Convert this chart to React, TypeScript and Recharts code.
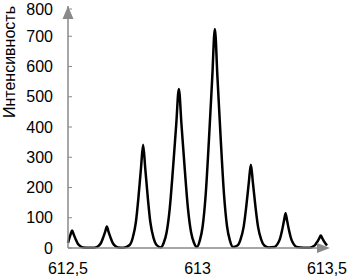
import { Line, LineChart, ReferenceDot, XAxis, YAxis } from "recharts";

// wavelength (x) and intensity (y)
const wavelengths = [
  612.5, 612.51, 612.516, 612.522, 612.53, 612.538, 612.548, 612.559, 612.58, 612.6,
  612.607, 612.618, 612.628, 612.636, 612.644, 612.65, 612.656, 612.664, 612.672, 612.682, 612.693, 612.715,
  612.738, 612.75, 612.762, 612.772, 612.782, 612.79, 612.798, 612.808, 612.818, 612.83, 612.842, 612.859,
  612.87, 612.881, 612.893, 612.905, 612.918, 612.928, 612.938, 612.951, 612.963, 612.975, 612.986, 612.998,
  613.009, 613.02, 613.032, 613.044, 613.057, 613.067, 613.077, 613.09, 613.102, 613.114, 613.125, 613.137,
  613.154, 613.166, 613.178, 613.188, 613.198, 613.206, 613.214, 613.224, 613.234, 613.246, 613.258, 613.275,
  613.297, 613.308, 613.318, 613.326, 613.334, 613.34, 613.346, 613.354, 613.362, 613.372, 613.383, 613.41,
  613.433, 613.444, 613.454, 613.462, 613.47, 613.476, 613.482, 613.49, 613.5,
];
const intensity = [
  17, 45, 58, 45, 28, 14, 6, 2, 1, 1,
  2, 7, 18, 35, 55, 71, 55, 35, 18, 7, 2, 1,
  10, 34, 85, 167, 266, 341, 266, 167, 85, 34, 10, 2,
  18, 53, 132, 258, 410, 526, 410, 258, 132, 53, 18, 3,
  25, 72, 181, 355, 565, 724, 565, 355, 181, 72, 25, 3,
  8, 28, 69, 135, 215, 275, 215, 135, 69, 28, 8, 2,
  3, 12, 29, 56, 90, 115, 90, 56, 29, 12, 3, 1,
  1, 4, 10, 20, 32, 41, 32, 20, 8,
];
const xTicks = [612.5, 613, 613.5];
const yTicks = [0, 100, 200, 300, 400, 500, 600, 700, 800];

const data = wavelengths.map((x, i) => ({ x, y: intensity[i] }));

const font = "'Liberation Sans', Arial, sans-serif";
const axisGrey = "#8a8a8a";

function YTick(props: any) {
  const { x, y, payload } = props;
  return (
    <g>
      <line x1={x + 15} x2={x + 19} y1={y} y2={y} stroke={axisGrey} strokeWidth={1} />
      <text x={x} y={y} dy="0.355em" textAnchor="end" fill="#000" fontSize={16} fontFamily={font}>
        {payload.value}
      </text>
    </g>
  );
}

function YTitle() {
  return (
    <text
      x={9}
      y={62}
      transform="rotate(-90, 9, 62)"
      textAnchor="middle"
      dominantBaseline="central"
      fill="#000"
      fontSize={16}
      fontFamily={font}
    >
      Интенсивность
    </text>
  );
}

export default function App() {
  return (
    <div style={{ position: "absolute", left: 0, top: 0, width: 349, height: 277, background: "#fff" }}>
      <LineChart width={349} height={277} data={data} margin={{ top: 6, right: 22, bottom: 0, left: 0 }}>
        <XAxis
          dataKey="x"
          type="number"
          domain={[612.5, 613.5]}
          ticks={xTicks}
          tickFormatter={(v: number) => String(v).replace(".", ",")}
          tickLine={false}
          tickSize={6}
          tickMargin={9}
          axisLine={{ stroke: axisGrey, strokeWidth: 1.5 }}
          tick={{ fill: "#000", fontSize: 16, fontFamily: font }}
          height={29}
        />
        <YAxis
          type="number"
          domain={[0, 800]}
          ticks={yTicks}
          tickLine={false}
          tickSize={6}
          tickMargin={9}
          axisLine={{ stroke: axisGrey, strokeWidth: 1.5 }}
          tick={<YTick />}
          width={68}
          label={{ content: () => <YTitle /> }}
        />
        <Line
          type="monotone"
          dataKey="y"
          stroke="#000"
          strokeWidth={2.5}
          dot={false}
          isAnimationActive={false}
        />
        <ReferenceDot
          x={613.5}
          y={0}
          ifOverflow="visible"
          shape={(p: any) => (
            <path d={`M${p.cx + 3},${p.cy} l-13,-5 v10 z`} fill={axisGrey} />
          )}
        />
        <ReferenceDot
          x={612.5}
          y={800}
          ifOverflow="visible"
          shape={(p: any) => (
            <path d={`M${p.cx},${p.cy} l-5.5,13 h11 z`} fill={axisGrey} />
          )}
        />
      </LineChart>
    </div>
  );
}
